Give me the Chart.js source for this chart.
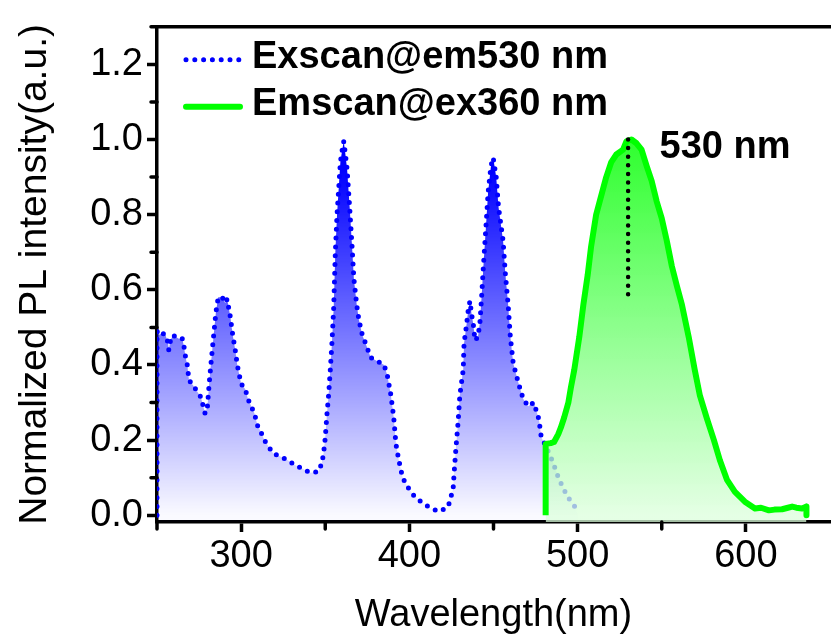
<!DOCTYPE html>
<html>
<head>
<meta charset="utf-8">
<title>PL excitation / emission</title>
<script src="https://cdn.jsdelivr.net/npm/chart.js@4.4.1/dist/chart.umd.min.js"></script>
<style>
  html, body { margin: 0; padding: 0; background: #fff; }
</style>
</head>
<body>
<canvas id="spec" width="831" height="642"></canvas>
<script>
// excitation scan, emission monitored at 530 nm
const exWavelength = [250, 250, 251, 253, 255, 256.5, 257, 258, 259.5, 261, 263, 265, 266, 267, 268, 269,
  271.5, 273.8, 276, 277.5, 278.6, 280, 281, 282, 283.6, 285, 286.4, 288.8, 290.5, 291.7, 293.5, 295,
  296.5, 297.7, 300, 302.5, 304, 306, 308, 309.6, 311.4, 313.8, 316, 319, 323, 327.5, 332, 336.5, 341,
  346, 348, 349, 350, 351, 352, 353, 354, 355, 356, 357, 358, 359, 360, 361, 362, 363, 364.5, 366, 367,
  368.7, 370, 372, 374, 377, 381, 385, 387, 389, 390.7, 392, 393.7, 396, 399, 402.7, 406.8, 412.8,
  417.6, 423, 426, 426.6, 427.7, 429, 430, 432, 432.5, 434, 435, 436, 437, 438, 439, 440.8, 442, 443,
  444, 445.6, 446.8, 448.5, 449.8, 451.6, 453, 455.7, 457, 458.7, 460, 461.7, 464.7, 467.6, 470.6,
  474, 477, 478.4, 481, 485.5, 487.3, 489, 491.5, 494, 498, 500];
const exIntensity = [0, 0.49, 0.48, 0.485, 0.48, 0.46, 0.44, 0.465, 0.48, 0.475, 0.47, 0.47, 0.45, 0.42,
  0.40, 0.36, 0.345, 0.33, 0.315, 0.29, 0.27, 0.29, 0.35, 0.40, 0.475, 0.54, 0.58, 0.58, 0.565, 0.575,
  0.53, 0.48, 0.44, 0.40, 0.35, 0.335, 0.31, 0.29, 0.27, 0.24, 0.225, 0.20, 0.185, 0.165, 0.157, 0.147,
  0.134, 0.124, 0.113, 0.116, 0.139, 0.165, 0.206, 0.268, 0.32, 0.387, 0.46, 0.55, 0.70, 0.80, 0.87,
  0.94, 0.97, 0.995, 0.96, 0.92, 0.82, 0.71, 0.63, 0.56, 0.52, 0.48, 0.457, 0.42, 0.41, 0.40, 0.37,
  0.32, 0.26, 0.19, 0.147, 0.10, 0.075, 0.052, 0.036, 0.018, 0.01, 0.022, 0.07, 0.113, 0.18, 0.25,
  0.32, 0.387, 0.457, 0.508, 0.547, 0.57, 0.534, 0.508, 0.465, 0.475, 0.516, 0.586, 0.663, 0.774,
  0.86, 0.93, 0.952, 0.90, 0.82, 0.73, 0.645, 0.56, 0.475, 0.405, 0.354, 0.31, 0.29, 0.30, 0.255,
  0.207, 0.186, 0.139, 0.116, 0.095, 0.072, 0.049, 0.026, 0.003];

// emission scan, excited at 360 nm
const emWavelength = [481, 481, 484, 486, 488.5, 490, 492, 494.5, 496, 498, 501, 503.4, 506, 508, 511,
  514, 517, 520, 523, 527, 529, 532, 535, 538, 541, 544, 547, 550, 553, 556, 559, 562, 566, 569.6,
  572.6, 576.8, 581, 584.5, 588.7, 593.5, 599.4, 605.4, 609, 613.7, 617, 621.5, 625, 627.5, 630,
  633.4, 636, 636];
const emIntensity = [0, 0.19, 0.192, 0.195, 0.216, 0.233, 0.26, 0.30, 0.34, 0.387, 0.475, 0.56, 0.64,
  0.715, 0.80, 0.85, 0.90, 0.94, 0.96, 0.973, 0.995, 1.0, 0.99, 0.973, 0.93, 0.89, 0.835, 0.79, 0.73,
  0.663, 0.61, 0.56, 0.475, 0.387, 0.32, 0.258, 0.20, 0.147, 0.095, 0.062, 0.036, 0.018, 0.02, 0.013,
  0.015, 0.016, 0.02, 0.023, 0.02, 0.018, 0.023, 0];

// emission maximum marker
const peakWavelength = [530, 530];
const peakIntensity = [1.0, 0.58];
const peakLabel = '530 nm';

const xTicks = [300, 400, 500, 600];
const xMinor = [250, 350, 450, 550];
const yTicks = [0, 0.2, 0.4, 0.6, 0.8, 1.0, 1.2];
const yMinor = [0.1, 0.3, 0.5, 0.7, 0.9, 1.1, 1.3];

const FONT = '"Liberation Sans", Arial, Helvetica, sans-serif';
const AXIS_W = 3.5;

function toPoints(xs, ys) {
    return xs.map((x, i) => ({ x: x, y: ys[i] }));
}

// vertical gradient running from yTop down to y=0
function vGradient(chart, yTop, topColor, bottomColor) {
    const { ctx, chartArea, scales } = chart;
    if (!chartArea) return topColor;
    const g = ctx.createLinearGradient(0, scales.y.getPixelForValue(yTop), 0, scales.y.getPixelForValue(0));
    g.addColorStop(0, topColor);
    g.addColorStop(1, bottomColor);
    return g;
}

// short ticks between the labelled ones
const minorTicks = {
    id: 'minorTicks',
    afterDraw(chart) {
        const { ctx, chartArea, scales: { x, y } } = chart;
        ctx.save();
        ctx.strokeStyle = '#000';
        ctx.lineWidth = AXIS_W;
        ctx.lineCap = 'round';
        ctx.beginPath();
        yMinor.forEach(v => {
            const py = y.getPixelForValue(v);
            ctx.moveTo(chartArea.left, py);
            ctx.lineTo(chartArea.left - 6, py);
        });
        xMinor.forEach(v => {
            const px = x.getPixelForValue(v);
            ctx.moveTo(px, chartArea.bottom);
            ctx.lineTo(px, chartArea.bottom + 7);
        });
        ctx.stroke();
        ctx.restore();
    }
};

// legend inside the plot + peak label
const annotations = {
    id: 'annotations',
    afterDraw(chart) {
        const { ctx, chartArea, scales: { x, y } } = chart;
        ctx.save();
        ctx.font = 'bold 38px ' + FONT;
        ctx.fillStyle = '#000';
        ctx.textBaseline = 'alphabetic';
        chart.data.datasets.filter(d => d.label).forEach((ds, i) => {
            const ly = chartArea.top + 33 + i * 47;
            ctx.save();
            ctx.strokeStyle = ds.borderColor;
            ctx.lineWidth = ds.borderWidth;
            ctx.lineCap = 'round';
            ctx.setLineDash(ds.borderDash || []);
            ctx.beginPath();
            ctx.moveTo(chartArea.left + 29, ly);
            ctx.lineTo(chartArea.left + 83, ly);
            ctx.stroke();
            ctx.restore();
            ctx.fillText(ds.label, chartArea.left + 95, ly + 8);
        });
        ctx.fillText(peakLabel, x.getPixelForValue(548.7), y.getPixelForValue(0.951));
        ctx.restore();
    }
};

const config = {
    type: 'line',
    data: {
        datasets: [
            {
                label: 'Exscan@em530 nm',
                data: toPoints(exWavelength, exIntensity),
                borderColor: '#0000ff',
                borderWidth: 5,
                borderDash: [0, 8.8],
                borderCapStyle: 'round',
                borderJoinStyle: 'round',
                backgroundColor: ctx => vGradient(ctx.chart, 0.92, 'rgba(0,0,255,1)', 'rgba(0,0,255,0.02)'),
                fill: 'start',
                pointRadius: 0,
                tension: 0,
                order: 1
            },
            {
                label: 'Emscan@ex360 nm',
                data: toPoints(emWavelength, emIntensity),
                borderColor: '#00ff00',
                borderWidth: 6,
                borderJoinStyle: 'round',
                backgroundColor: ctx => vGradient(ctx.chart, 1, 'rgba(0,255,0,0.82)', 'rgba(220,255,220,0.75)'),
                fill: 'start',
                pointRadius: 0,
                tension: 0,
                order: 0
            },
            {
                data: toPoints(peakWavelength, peakIntensity),
                borderColor: '#000',
                borderWidth: 4.5,
                borderDash: [0, 8.6],
                borderCapStyle: 'round',
                fill: false,
                pointRadius: 0,
                order: -1
            }
        ]
    },
    options: {
        responsive: false,
        animation: false,
        layout: { padding: { top: 14, right: 1, left: 0, bottom: 0 } },
        plugins: {
            legend: { display: false },
            tooltip: { enabled: false }
        },
        scales: {
            x: {
                type: 'linear',
                min: 250,
                max: 650,
                afterBuildTicks: scale => { scale.ticks = xTicks.map(v => ({ value: v })); },
                afterFit: scale => { scale.height = 120; },
                border: { color: '#000', width: AXIS_W },
                grid: { drawOnChartArea: false, tickLength: 10, tickWidth: AXIS_W, tickColor: '#000' },
                ticks: { color: '#000', padding: 2, maxRotation: 0, font: { family: FONT, size: 38 } },
                title: {
                    display: true,
                    text: 'Wavelength(nm)',
                    color: '#000',
                    font: { family: FONT, size: 38 },
                    padding: { top: 0, bottom: 4 }
                }
            },
            xTop: {
                type: 'linear',
                position: 'top',
                min: 250,
                max: 650,
                afterFit: scale => { scale.height = 0; },
                border: { color: '#000', width: AXIS_W },
                grid: { drawOnChartArea: false, drawTicks: false },
                ticks: { display: false }
            },
            y: {
                min: -0.018,
                max: 1.3,
                afterBuildTicks: scale => { scale.ticks = yTicks.map(v => ({ value: v })); },
                afterFit: scale => { scale.width = 157; },
                border: { color: '#000', width: AXIS_W },
                grid: { drawOnChartArea: false, tickLength: 10, tickWidth: AXIS_W, tickColor: '#000' },
                ticks: {
                    color: '#000',
                    padding: 4,
                    font: { family: FONT, size: 38 },
                    callback: v => v.toFixed(1)
                },
                title: {
                    display: true,
                    text: 'Normalized PL intensity(a.u.)',
                    color: '#000',
                    font: { family: FONT, size: 39 },
                    padding: { top: 12, bottom: 0 }
                }
            }
        }
    },
    plugins: [minorTicks, annotations]
};

new Chart(document.getElementById('spec'), config);
</script>
</body>
</html>
